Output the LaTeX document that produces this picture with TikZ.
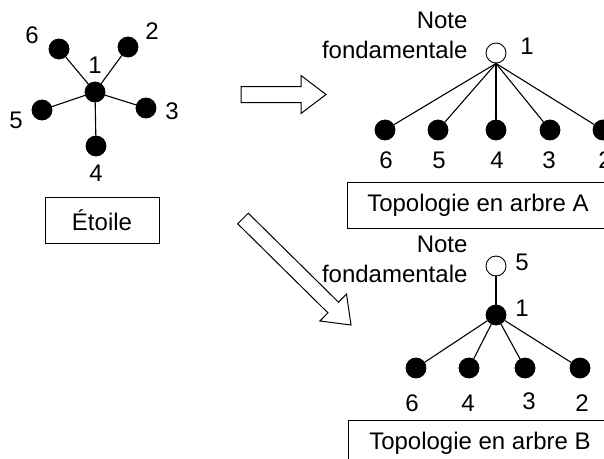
\documentclass[tikz,border=0pt]{standalone}
\usepackage{fontspec}
\setmainfont{Liberation Sans}
\begin{document}
\begin{tikzpicture}[x=1pt,y=-1pt,line width=1.1pt,
  every node/.style={font=\fontsize{24}{27}\selectfont},
  dot/.style={circle,fill=black,draw=black,line width=0.8pt,minimum size=20pt,inner sep=0pt},
  odot/.style={circle,fill=white,draw=black,line width=0.9pt,minimum size=20pt,inner sep=0pt},
  lbl/.style={inner sep=0pt},
  titlebox/.style={draw,line width=1pt,minimum height=46pt,inner sep=0pt},
  edge/.style={line width=1.1pt},
  bigarrow/.style={draw,line width=1pt,fill=white,line join=miter}]
\useasboundingbox (0,0) rectangle (604,458);
\clip (0,0) rectangle (604,458);

% Star
\node[dot] (c1) at (95,92) {};
\node[dot] (s6) at (59,49) {};
\node[dot] (s2) at (128,47) {};
\node[dot] (s5) at (42,110) {};
\node[dot] (s3) at (146,108) {};
\node[dot] (s4) at (96,146) {};
\foreach \n in {s6,s2,s5,s3,s4} \draw[edge] (c1) -- (\n);
\node[lbl] (t6) at (32,35) {6};
\node[lbl] (t2) at (152,31) {2};
\node[lbl] (t1) at (95,65) {1};
\node[lbl] (t5) at (16,120) {5};
\node[lbl] (t3) at (172,111) {3};
\node[lbl] (t4) at (96,173) {4};
\node[titlebox,minimum width=114pt] (etoile) at (102,220) {Étoile};

% Arrows
\path[bigarrow] (241,86.5) -- (301,86.5) -- (301,75.5) -- (326,94.5) -- (301,113.5) -- (301,102.5) -- (241,102.5) -- cycle;
\path[bigarrow] (248.3,213.2) -- (338.5,302.2) -- (346.5,294.0) -- (351,325) -- (319.9,321.0) -- (327.9,312.8) -- (237.7,223.8) -- cycle;

% Tree A
\node[odot] (a1) at (496,53) {};
\node[dot] (a6) at (385,130) {};
\node[dot] (a5) at (438,130) {};
\node[dot] (a4) at (496,130) {};
\node[dot] (a3) at (550,130) {};
\node[dot] (a2) at (603,130) {};
\foreach \n in {a6,a5,a4,a3,a2} \draw[edge] (a1.south) -- (\n);
\node[lbl,anchor=base east] (anote) at (468,28) {Note};
\node[lbl,anchor=base east] (afond) at (468,58) {fondamentale};
\node[lbl] (ta1) at (527,46) {1};
\node[lbl] (ta6) at (386,160) {6};
\node[lbl] (ta5) at (439,160) {5};
\node[lbl] (ta4) at (497,160) {4};
\node[lbl] (ta3) at (549,160) {3};
\node[lbl] (ta2) at (605,160) {2};
\node[titlebox,minimum width=262pt] (boxA) at (478,205) {Topologie en arbre A};

% Tree B
\node[odot] (b5) at (496,266) {};
\node[dot] (b1) at (496,315) {};
\node[dot] (b6) at (416,368) {};
\node[dot] (b4) at (469,368) {};
\node[dot] (b3) at (525,368) {};
\node[dot] (b2) at (580,368) {};
\draw[edge] (b5) -- (b1);
\foreach \n in {b6,b4,b3,b2} \draw[edge] (b1) -- (\n);
\node[lbl,anchor=base east] (bnote) at (468,252) {Note};
\node[lbl,anchor=base east] (bfond) at (468,282) {fondamentale};
\node[lbl] (tb5) at (522,262) {5};
\node[lbl] (tb1) at (522,308) {1};
\node[lbl] (tb6) at (412,403) {6};
\node[lbl] (tb4) at (468,403) {4};
\node[lbl] (tb3) at (529,401) {3};
\node[lbl] (tb2) at (582,403) {2};
\node[titlebox,minimum width=264pt] (boxB) at (480,443) {Topologie en arbre B};
\end{tikzpicture}
\end{document}
